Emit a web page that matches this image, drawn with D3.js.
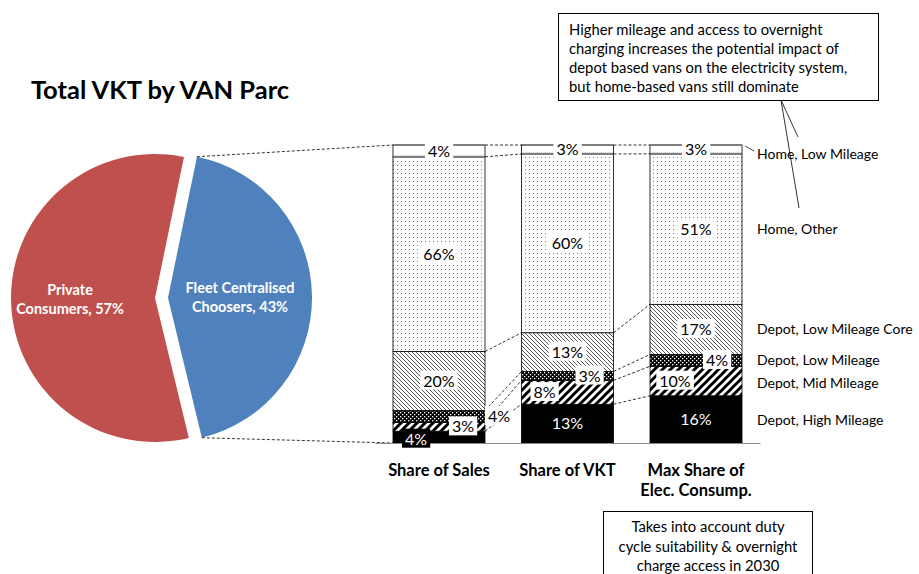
<!DOCTYPE html>
<html><head><meta charset="utf-8">
<script src="https://d3js.org/d3.v7.min.js"></script>
<style>body{margin:0;background:#fff;} text{font-family:Lato,"Open Sans",sans-serif;}</style>
</head><body>
<svg id="chart" width="919" height="574"></svg>
<script>
// data
var categories=['Share of Sales','Share of VKT','Max Share of Elec. Consump.'],
    catLines=[['Share of Sales'],['Share of VKT'],['Max Share of','Elec. Consump.']],
    seriesNames=['Depot, High Mileage','Depot, Mid Mileage','Depot, Low Mileage',
                 'Depot, Low Mileage Core','Home, Other','Home, Low Mileage'],
    depotHigh=[4,13,16], depotMid=[3,8,10], depotLow=[4,3,4],
    depotCore=[20,13,17], homeOther=[66,60,51], homeLow=[4,3,3],
    pieNames=['Fleet Centralised Choosers','Private Consumers'],
    pieLines=[['Fleet Centralised','Choosers, 43%'],['Private','Consumers, 57%']],
    pieValues=[43,57],
    title='Total VKT by VAN Parc',
    note1=['Higher mileage and access to overnight','charging increases the potential impact of',
           'depot based vans on the electricity system,','but home-based vans still dominate'],
    note2=['Takes into account duty','cycle suitability & overnight','charge access in 2030'];

var seriesVals=[depotHigh,depotMid,depotLow,depotCore,homeOther,homeLow];
var table=categories.map(function(c,i){var r={cat:c};
    seriesNames.forEach(function(s,j){r[s]=seriesVals[j][i];});return r;});

var svg=d3.select('#chart');
var defs=svg.append('defs');
// patterns
var p=defs.append('pattern').attr('id','pDots').attr('width',4).attr('height',4).attr('patternUnits','userSpaceOnUse');
p.append('rect').attr('width',4).attr('height',4).attr('fill','#fff');
p.append('rect').attr('x',1).attr('y',1).attr('width',1).attr('height',1).attr('fill','#777');
p=defs.append('pattern').attr('id','pBack').attr('width',4).attr('height',4).attr('patternUnits','userSpaceOnUse');
p.append('rect').attr('width',4).attr('height',4).attr('fill','#fff');
p.append('path').attr('d','M-1,-1L5,5M-1,3L1,5M3,-1L5,1').attr('stroke','#444').attr('stroke-width',0.9);
p=defs.append('pattern').attr('id','pDark').attr('width',4).attr('height',4).attr('patternUnits','userSpaceOnUse');
p.append('rect').attr('width',4).attr('height',4).attr('fill','#000');
p.append('rect').attr('x',0).attr('y',0).attr('width',1.3).attr('height',1.3).attr('fill','#fff');
p.append('rect').attr('x',2).attr('y',2).attr('width',1.3).attr('height',1.3).attr('fill','#fff');
p=defs.append('pattern').attr('id','pWide').attr('width',8).attr('height',8).attr('patternUnits','userSpaceOnUse');
p.append('rect').attr('width',8).attr('height',8).attr('fill','#fff');
p.append('path').attr('d','M-2,10L10,-2M-2,2L2,-2M6,10L10,6').attr('stroke','#000').attr('stroke-width',3);

var fills={'Depot, High Mileage':'#000','Depot, Mid Mileage':'url(#pWide)','Depot, Low Mileage':'url(#pDark)',
           'Depot, Low Mileage Core':'url(#pBack)','Home, Other':'url(#pDots)','Home, Low Mileage':'#fff'};

// title
svg.append('text').attr('x',160).attr('y',99).attr('text-anchor','middle')
   .attr('font-size',25.5).attr('font-weight','bold').text(title);

// pie
var cx=155,cy=298,R=144,explode=13;
var pie=d3.pie().sort(null).value(function(d){return d;});
var fleetSpan=pieValues[0]/d3.sum(pieValues)*2*Math.PI, mid=89*Math.PI/180;
var arcsData=pie.startAngle(mid-fleetSpan/2).endAngle(mid-fleetSpan/2+2*Math.PI)(pieValues);
var arc=d3.arc().innerRadius(0).outerRadius(R);
var pieCols=['#4F81BD','#C0504D'];
var pg=svg.append('g');
arcsData.forEach(function(a,i){
    var m=(a.startAngle+a.endAngle)/2,off=i==0?explode:0;
    var ox=cx+off*Math.sin(m),oy=cy-off*Math.cos(m);
    var g=pg.append('g').attr('transform','translate('+ox+','+oy+')');
    g.append('path').attr('d',arc(a)).attr('fill',pieCols[i]);
    var lr=i==0?72:85,lx=lr*Math.sin(m),ly=-lr*Math.cos(m);
    g.append('text').attr('text-anchor','middle').attr('fill','#fff').attr('font-weight','bold')
     .attr('font-size',14.5).selectAll('tspan').data(pieLines[i]).enter().append('tspan')
     .attr('x',lx).attr('y',function(d,k){return ly-4+k*19;}).text(function(d){return d;});
});

// bars
var x=d3.scaleBand().domain(categories).range([375,760]).paddingInner(0.284).paddingOuter(0.14);
var y=d3.scaleLinear().domain([0,1]).range([443,145]);
var stack=d3.stack().keys(seriesNames).offset(d3.stackOffsetExpand)(table);

// blue slice connectors
var fa=arcsData[0],fox=cx+explode*Math.sin(mid),foy=cy-explode*Math.cos(mid);
[[fa.startAngle,1],[fa.endAngle,0]].forEach(function(e){
    svg.append('line').attr('x1',fox+R*Math.sin(e[0])).attr('y1',foy-R*Math.cos(e[0]))
       .attr('x2',x(categories[0])).attr('y2',y(e[1]))
       .attr('stroke','#000').attr('stroke-width',0.8).attr('stroke-dasharray','3,2');
});

// series lines
stack.forEach(function(s){
    for(var i=0;i<categories.length-1;i++){
        svg.append('line').attr('x1',x(categories[i])+x.bandwidth()).attr('y1',y(s[i][1]))
           .attr('x2',x(categories[i+1])).attr('y2',y(s[i+1][1]))
           .attr('stroke','#000').attr('stroke-width',0.8).attr('stroke-dasharray','3,2');
    }
});

var bg=svg.append('g');
stack.forEach(function(s){
    bg.selectAll(null).data(s).enter().append('rect')
      .attr('x',function(d){return x(d.data.cat);}).attr('width',x.bandwidth())
      .attr('y',function(d){return y(d[1]);}).attr('height',function(d){return y(d[0])-y(d[1]);})
      .attr('fill',fills[s.key]).attr('stroke','#000').attr('stroke-width',0.8);
    if(s.key=='Home, Low Mileage'){
        s.forEach(function(d){
            [d[0],d[1]].forEach(function(v){
                bg.append('line').attr('x1',x(d.data.cat)+0.5).attr('x2',x(d.data.cat)+x.bandwidth()-0.5)
                  .attr('y1',y(v)).attr('y2',y(v)).attr('stroke','#7f7f7f').attr('stroke-width',2.2);
            });
        });
    }
});

// axis
var ax=svg.append('g').attr('transform','translate(0,443)')
   .call(d3.axisBottom(x).tickSize(0).tickSizeOuter(0).tickFormat(''));
ax.select('.domain').attr('stroke','#888');
svg.selectAll(null).data(categories).enter().append('text')
   .attr('text-anchor','middle').attr('font-weight','bold').attr('font-size',16.5)
   .each(function(c,i){
       d3.select(this).selectAll('tspan').data(catLines[i]).enter().append('tspan')
         .attr('x',x(c)+x.bandwidth()/2).attr('y',function(d,k){return 476+k*20;}).text(function(d){return d;});
   });

// data labels
var lblDx={'Depot, Low Mileage':[60,22,21],'Depot, Mid Mileage':[24,-23,-21],'Depot, High Mileage':[-23,0,0]},
    lblDy={'Depot, High Mileage':[2,0,0]};
var lg=svg.append('g');
stack.forEach(function(s){
    s.forEach(function(d,i){
        var dx=lblDx[s.key]?lblDx[s.key][i]:0, dy=lblDy[s.key]?lblDy[s.key][i]:0;
        var tx=x(d.data.cat)+x.bandwidth()/2+dx, ty=(y(d[0])+y(d[1]))/2+dy;
        var black=s.key=='Depot, High Mileage';
        var g=lg.append('g');
        var t=g.append('text').attr('x',tx).attr('y',ty).attr('dy','0.35em').attr('text-anchor','middle')
               .attr('font-size',16).attr('fill',black?'#fff':'#000').text(d.data[s.key]+'%');
        var b=t.node().getBBox();
        g.insert('rect','text').attr('x',b.x-3).attr('y',b.y).attr('width',b.width+6).attr('height',b.height)
         .attr('fill',black?'#000':'#fff');
    });
});

// series names on the right
var last=categories.length-1, nameDy={'Home, Low Mileage':5,'Depot, Mid Mileage':2,'Depot, High Mileage':1};
stack.forEach(function(s){
    var d=s[last], ty=(y(d[0])+y(d[1]))/2+(nameDy[s.key]||0);
    svg.append('text').attr('x',757).attr('y',ty).attr('dy','0.35em').attr('font-size',14).text(s.key);
});
var hl=stack[stack.length-1][last];
svg.append('line').attr('x1',x(categories[last])+x.bandwidth()+3).attr('y1',y(hl[1])+1)
   .attr('x2',754).attr('y2',y(hl[1])+6).attr('stroke','#000').attr('stroke-width',0.7);

// callout boxes
var n1=svg.append('g');
n1.append('rect').attr('x',558.5).attr('y',13.5).attr('width',320).attr('height',87)
  .attr('fill','#fff').attr('stroke','#000').attr('stroke-width',1);
n1.append('text').attr('font-size',14.8).selectAll('tspan').data(note1).enter().append('tspan')
  .attr('x',569).attr('y',function(d,k){return 35+k*19;}).text(function(d){return d;});
[[798,137],[799,208]].forEach(function(e){
    svg.append('line').attr('x1',781).attr('y1',100).attr('x2',e[0]).attr('y2',e[1])
       .attr('stroke','#000').attr('stroke-width',0.8);
});
var n2=svg.append('g');
n2.append('rect').attr('x',603.5).attr('y',511.5).attr('width',209).attr('height',80)
  .attr('fill','#fff').attr('stroke','#000').attr('stroke-width',1);
n2.append('text').attr('font-size',14.8).attr('text-anchor','middle').selectAll('tspan').data(note2).enter().append('tspan')
  .attr('x',708).attr('y',function(d,k){return 532+k*19.5;}).text(function(d){return d;});
</script>
</body></html>
